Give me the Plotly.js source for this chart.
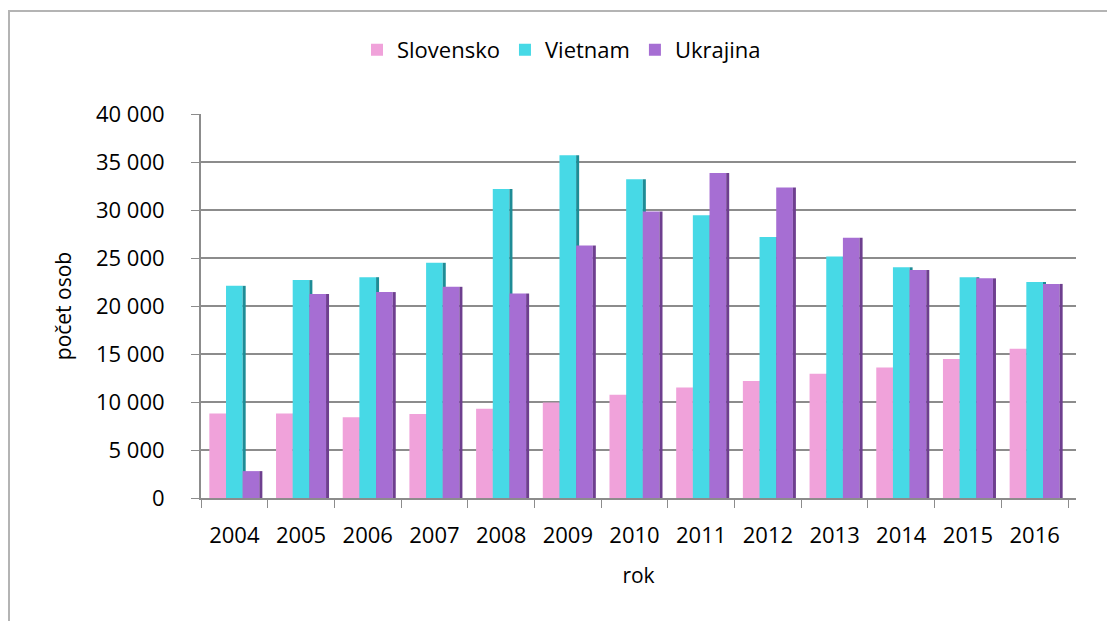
<!DOCTYPE html>
<html>
<head>
<meta charset="utf-8">
<script src="https://cdn.plot.ly/plotly-3.0.1.min.js"></script>
<style>
  html, body { margin: 0; padding: 0; background: #fff; }
  #wrap { position: relative; width: 1107px; height: 621px; overflow: hidden; }
  #chart { width: 1107px; height: 621px; }
  #frame { position: absolute; left: 8px; top: 10px; width: 1200px; height: 700px;
           border: 2px solid #b4b4b4; pointer-events: none; box-sizing: border-box; }
</style>
</head>
<body>
<div id="wrap">
  <div id="chart"></div>
  <div id="frame"></div>
</div>
<script>
// ---- data ----
const years = ['2004','2005','2006','2007','2008','2009','2010','2011','2012','2013','2014','2015','2016'];
const slovensko = [8800, 8800, 8400, 8750, 9300, 9950, 10750, 11500, 12200, 12950, 13600, 14480, 15550];
const vietnam   = [22100, 22700, 23000, 24500, 32200, 35700, 33200, 29450, 27200, 25150, 24030, 23000, 22500];
const ukrajina  = [2800, 21250, 21450, 22000, 21300, 26300, 29850, 33850, 32350, 27100, 23750, 22880, 22300];
const seriesNames = ['Slovensko', 'Vietnam', 'Ukrajina'];

// ---- styles ----
const faceColors = ['#F0A2DA', '#47D9E6', '#A66ED3'];
const sideColors = ['#C97DB5', '#1E8C96', '#6E3F8F'];
const FONT = '"Open Sans", "DejaVu Sans", sans-serif';

const barW = 0.25;      // front face width (category units)
const sideW = 0.045;    // 3-D side face width
const start = -0.375;

const series = [slovensko, vietnam, ukrajina];
const traces = [];
series.forEach((vals, i) => {
  traces.push({
    type: 'bar', name: seriesNames[i], x: years, y: vals,
    width: barW, offset: start + i * barW,
    marker: { color: faceColors[i], line: { width: 0 } },
    hoverinfo: 'x+y+name'
  });
  traces.push({
    type: 'bar', name: seriesNames[i] + ' side', x: years, y: vals,
    width: sideW, offset: start + (i + 1) * barW,
    marker: { color: sideColors[i], line: { width: 0 } },
    showlegend: false, hoverinfo: 'skip'
  });
});

const layout = {
  width: 1107, height: 621,
  margin: { l: 201, r: 31, t: 114, b: 123, pad: 0 },
  paper_bgcolor: '#ffffff', plot_bgcolor: '#ffffff',
  separators: ', ',
  font: { family: FONT, size: 22, color: '#000000' },
  barmode: 'overlay',
  showlegend: true,
  legend: {
    orientation: 'h', x: 0.412, xanchor: 'center', y: 1.167, yanchor: 'middle',
    font: { family: FONT, size: 22, color: '#000' },
    itemwidth: 30, traceorder: 'normal', bgcolor: 'rgba(0,0,0,0)'
  },
  xaxis: {
    type: 'category', range: [-0.5, 12.62],
    showline: true, linecolor: '#8c8c8c', linewidth: 2,
    ticks: 'outside', tickson: 'boundaries', ticklen: 8, tickcolor: '#8c8c8c', tickwidth: 1,
    showgrid: false, zeroline: false,
    tickfont: { family: FONT, size: 22, color: '#000' },
    ticklabelstandoff: 17,
    title: { text: 'rok', font: { family: FONT, size: 21, color: '#000' }, standoff: 20 }
  },
  yaxis: {
    range: [0, 40000], dtick: 5000, tick0: 0, tickformat: ',d',
    showline: true, linecolor: '#8c8c8c', linewidth: 2,
    ticks: 'outside', ticklen: 8, tickcolor: '#8c8c8c', tickwidth: 1,
    showgrid: true, gridcolor: '#8c8c8c', gridwidth: 2,
    zeroline: false,
    tickfont: { family: FONT, size: 22, color: '#000' },
    ticklabelstandoff: 22,
    title: { text: 'počet osob', font: { family: FONT, size: 21, color: '#000' }, standoff: 19 }
  }
};

Plotly.newPlot('chart', traces, layout, { staticPlot: true, displayModeBar: false });
</script>
</body>
</html>
